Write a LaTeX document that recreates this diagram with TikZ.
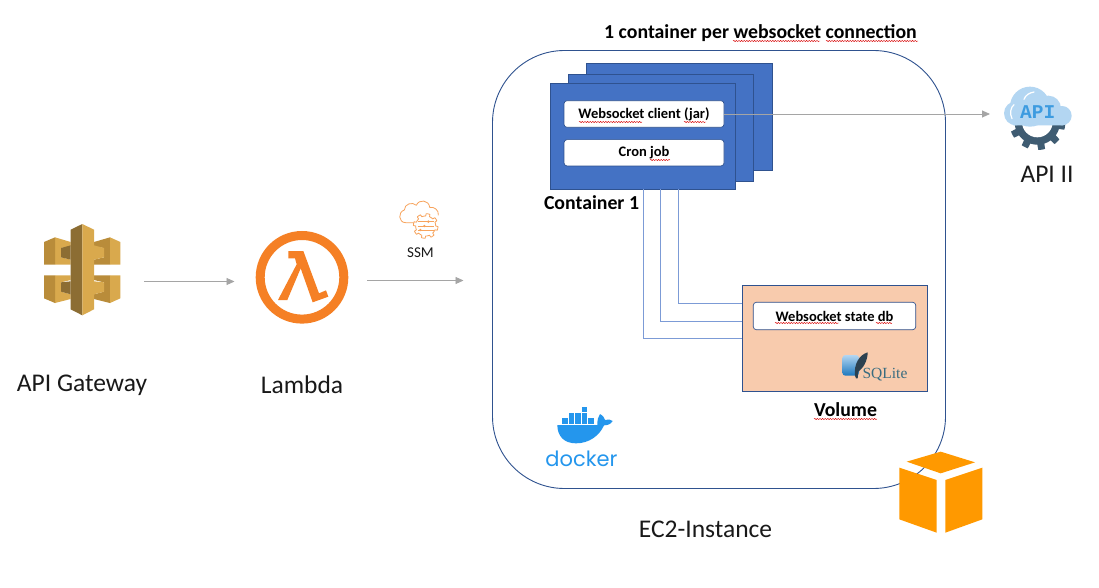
\documentclass[tikz,border=0pt]{standalone}
\usepackage{fontspec}
\setmainfont{Carlito}
\newfontfamily\monofam{Liberation Mono}
\newfontfamily\logofam{Poppins}
\newfontfamily\sqlfam{Liberation Serif}
\usetikzlibrary{arrows.meta,decorations.pathmorphing}
\definecolor{boxblue}{HTML}{4472C4}
\definecolor{boxedge}{HTML}{2F528F}
\definecolor{peach}{HTML}{F8CBAD}
\definecolor{arrowgray}{HTML}{A5A5A5}
\definecolor{elbow}{HTML}{7C9BD6}
\definecolor{gwdark}{HTML}{8C6D33}
\definecolor{gwmid}{HTML}{B98C3A}
\definecolor{gwlight}{HTML}{D9A94D}
\definecolor{lam}{HTML}{F58025}
\definecolor{dock}{HTML}{2496ED}
\definecolor{awsor}{HTML}{FF9900}
\definecolor{cloudb}{HTML}{B3D6F2}
\definecolor{gearb}{HTML}{3F5C72}
\definecolor{apit}{HTML}{3D9BE0}
\definecolor{ssmor}{HTML}{F7A35C}
\tikzset{
  container/.style={draw=boxedge,fill=boxblue,line width=.9pt,inner sep=0,outer sep=0},
  innerbox/.style={draw=boxedge,fill=white,rounded corners=3pt,line width=.7pt,inner sep=0,outer sep=0,font=\bfseries\fontsize{14.5}{16}\selectfont},
  flow/.style={draw=arrowgray,line width=.9pt,-{Triangle[length=8pt,width=7pt,fill=arrowgray]}},
  wire/.style={draw=elbow,line width=1pt},
  lbl/.style={inner sep=0,font=\fontsize{25.5}{28}\selectfont,text=black!90},
  blbl/.style={inner sep=0,font=\bfseries\fontsize{19.8}{22}\selectfont,text=black},
  squig/.style={draw=red!85!black,line width=.45pt,decorate,decoration={snake,amplitude=.6pt,segment length=2.6pt}}
}
\begin{document}
\begin{tikzpicture}[x=1pt,y=-1pt]
\path[use as bounding box,fill=white] (0,0) rectangle (1099,588);

% EC2 instance frame
\node[draw=boxedge,line width=.9pt,rounded corners=72pt,minimum width=453pt,minimum height=438pt,inner sep=0,outer sep=0] (ec2) at (719,269.5) {};

% containers
\node[container,minimum width=186pt,minimum height=107.4pt] (c3) at (679.7,117) {};
\node[container,minimum width=185.4pt,minimum height=107.4pt] (c2) at (661,128) {};
\node[container,minimum width=185.4pt,minimum height=106pt] (c1) at (643,136.3) {};
\node[innerbox,minimum width=160pt,minimum height=26.6pt] (ws) at (644,114) {Websocket client (jar)};
\node[innerbox,minimum width=160pt,minimum height=26.3pt] (cron) at (644,152.8) {Cron job};

% volume
\node[draw=boxedge,fill=peach,line width=.9pt,minimum width=185pt,minimum height=106pt,inner sep=0,outer sep=0] (vol) at (834.8,338.3) {};
\node[innerbox,minimum width=162.4pt,minimum height=27.4pt] (db) at (834.5,316) {Websocket state db};

% wires between container and volume
\coordinate (w1) at (643.3,189.3);
\coordinate (w2) at (660.3,189.3);
\coordinate (w3) at (678.3,189.3);
\coordinate (v1) at (742.3,338);
\coordinate (v2) at (742.3,321);
\coordinate (v3) at (742.3,303.3);
\draw[wire] (w1) |- (v1);
\draw[wire] (w2) |- (v2);
\draw[wire] (w3) |- (v3);

% flows
\coordinate (gwout) at (144,281.5);
\coordinate (lamin) at (234.5,281.5);
\coordinate (lamout) at (367,280.5);
\coordinate (ec2in) at (463.5,280.5);
\coordinate (apiin) at (990,114);
\draw[flow] (gwout) -- (lamin);
\draw[flow] (lamout) -- (ec2in);
\draw[flow] (ws.east) -- (apiin);

% API gateway icon
\begin{scope}[shift={(35,218)},scale=1/3]
  \fill[gwlight] (60,58) -- (107,72) -- (107,85) -- (78,90) -- (78,118) -- (107,125) -- (107,140) -- (60,140) -- cycle;
  \fill[gwmid] (27,72) -- (60,58) -- (60,140) -- (27,140) -- cycle;
  \fill[gwdark] (78,90) -- (107,82) -- (107,125) -- (78,118) -- cycle;
  \fill[gwmid] (225,58) -- (177,72) -- (177,85) -- (207,90) -- (207,118) -- (177,125) -- (177,140) -- (225,140) -- cycle;
  \fill[gwlight] (225,58) -- (256,72) -- (256,140) -- (225,140) -- cycle;
  \fill[gwlight] (177,82) -- (207,90) -- (207,118) -- (177,125) -- cycle;
  \fill[gwlight] (60,172) -- (107,172) -- (107,186) -- (78,193) -- (78,221) -- (107,229) -- (107,243) -- (60,255) -- cycle;
  \fill[gwmid] (27,172) -- (60,172) -- (60,255) -- (27,241) -- cycle;
  \fill[gwdark] (78,193) -- (107,190) -- (107,229) -- (78,221) -- cycle;
  \fill[gwmid] (177,172) -- (225,172) -- (225,255) -- (177,243) -- (177,229) -- (207,221) -- (207,193) -- (177,186) -- cycle;
  \fill[gwlight] (225,172) -- (256,172) -- (256,241) -- (225,255) -- cycle;
  \fill[gwlight] (177,190) -- (207,193) -- (207,221) -- (177,229) -- cycle;
  \fill[gwdark] (107,35) -- (142,18) -- (142,292) -- (107,274) -- cycle;
  \fill[gwlight] (142,18) -- (177,35) -- (177,274) -- (142,292) -- cycle;
\end{scope}

% Lambda icon
\draw[lam,line width=9pt] (302,277.3) circle (41.8);
\begin{scope}[shift={(250,225)},scale=1/3]
  \fill[lam] (115,78) -- (160,78) -- (207,205) -- (228,196) -- (235,215) -- (188,232) -- (152,130) -- (112,225) -- (84,225) -- (140,118) -- (135,100) -- (115,100) -- cycle;
\end{scope}

% SSM icon
\begin{scope}[shift={(385,190)},scale=1/3]
  \draw[ssmor,line width=.8pt,line join=round] (86,98) -- (62,98) .. controls (40,98) and (38,66) .. (58,60) .. controls (58,42) and (82,34) .. (94,46) .. controls (102,26) and (132,30) .. (134,52) .. controls (148,50) and (162,60) .. (160,76);
  \draw[ssmor,line width=.8pt,line join=round] plot[domain=0:360,samples=145] ({122+(sin(8*\x)>0?37:30)*cos(\x)},{108+(sin(8*\x)>0?37:30)*sin(\x)}) -- cycle;
  \draw[ssmor,line width=.7pt] (98,95) -- (146,95) (98,108) -- (146,108) (98,120) -- (146,120);
  \fill[ssmor] (130,95) circle (4) (118,108) circle (4) (106,120) circle (4);
\end{scope}

% API II icon
\begin{scope}[shift={(980,70)},scale=1/3]
  \begin{scope}
    \clip (60,164) rectangle (290,250);
    \fill[gearb] plot[domain=0:360,samples=181] ({172+(sin(10*\x)>0?84:68)*cos(\x)},{156+(sin(10*\x)>0?84:68)*sin(\x)}) -- cycle;
    \fill[white] (172,156) circle (46);
  \end{scope}
  \fill[cloudb] (150,110) circle (60) (108,130) circle (36) (205,115) circle (38) (246,137) circle (29);
  \fill[cloudb] (100,135) rectangle (250,166);
  \fill[cloudb] (90,150) -- (260,150) -- (250,166) -- (100,166) -- cycle;
  \draw[white,line width=1.2pt,line cap=round] (96,146) .. controls (88,130) and (92,112) .. (102,104);
  \draw[white,line width=1.2pt,line cap=round] (132,88) .. controls (136,76) and (148,68) .. (162,66);
  \node[inner sep=0,text=apit,font=\monofam\bfseries\fontsize{19.5}{20}\selectfont] (apitxt) at (173,125) {API};
\end{scope}

% Docker icon
\begin{scope}[shift={(540,400)},scale=1/3]
  \fill[dock] (52,75) -- (172,75) .. controls (172,60) and (174,50) .. (180,42) .. controls (190,48) and (194,54) .. (195,60) .. controls (204,57) and (212,58) .. (218,63) .. controls (212,74) and (200,76) .. (192,76) .. controls (178,108) and (146,130) .. (108,130) .. controls (72,130) and (52,108) .. (52,75) -- cycle;
  \foreach \bx in {67,86,105,125,144} {\fill[dock] (\bx,55) rectangle +(17,17);}
  \foreach \bx in {86,105,125} {\fill[dock] (\bx,38) rectangle +(17,15);}
  \fill[dock] (125,20) rectangle +(17,16);
\end{scope}
\node[inner sep=0,text=dock,font=\logofam\fontsize{21}{24}\selectfont] (dockertxt) at (581.5,459) {docker};

% SQLite logo
\begin{scope}[shift={(835,345)},scale=1/3]
  \shade[top color=cloudb,bottom color=dock!80!black,rounded corners=3pt] (22,30) rectangle (72,92);
  \fill[black!30!gearb] (60,92) .. controls (56,58) and (72,30) .. (98,22) .. controls (98,48) and (84,70) .. (70,80) -- (68,100) -- (63,100) -- cycle;
\end{scope}
\node[inner sep=0,text=gearb!90!cyan,font=\sqlfam\fontsize{15.5}{16}\selectfont] (sqltxt) at (885,374.5) {SQLite};

% EC2 cube
\begin{scope}[shift={(530,400)},scale=1/3]
  \fill[awsor] (1130,185) -- (1232,155) -- (1335,187) -- (1232,220) -- cycle;
  \fill[awsor] (1108,203) -- (1220,240) -- (1220,398) -- (1108,358) -- cycle;
  \fill[awsor] (1246,240) -- (1357,203) -- (1357,358) -- (1246,398) -- cycle;
\end{scope}

% labels
\node[blbl,anchor=center] (title) at (760.5,33) {1 container per websocket connection};
\node[blbl,anchor=center] (c1lab) at (591.5,203) {Container 1};
\node[blbl,anchor=center] (vollab) at (845.5,410) {Volume};
\node[lbl] (gwlab) at (82,385.5) {API Gateway};
\node[lbl] (lamlab) at (302,385) {Lambda};
\node[inner sep=0,font=\fontsize{15}{17}\selectfont,text=black!90] (ssmlab) at (420.5,253) {SSM};
\node[lbl] (apilab) at (1047,174) {API II};
\node[lbl] (ec2lab) at (705.5,529) {EC2-Instance};

% spell-check underlines
\draw[squig] (733,41) -- (820,41);
\draw[squig] (826,41) -- (918,41);
\draw[squig] (579,122) -- (642,122);
\draw[squig] (684,122) -- (706,122);
\draw[squig] (650,160) -- (670,160);
\draw[squig] (775,323) -- (839,323);
\draw[squig] (876,323) -- (892,323);
\draw[squig] (814,419) -- (877,419);
\end{tikzpicture}
\end{document}
